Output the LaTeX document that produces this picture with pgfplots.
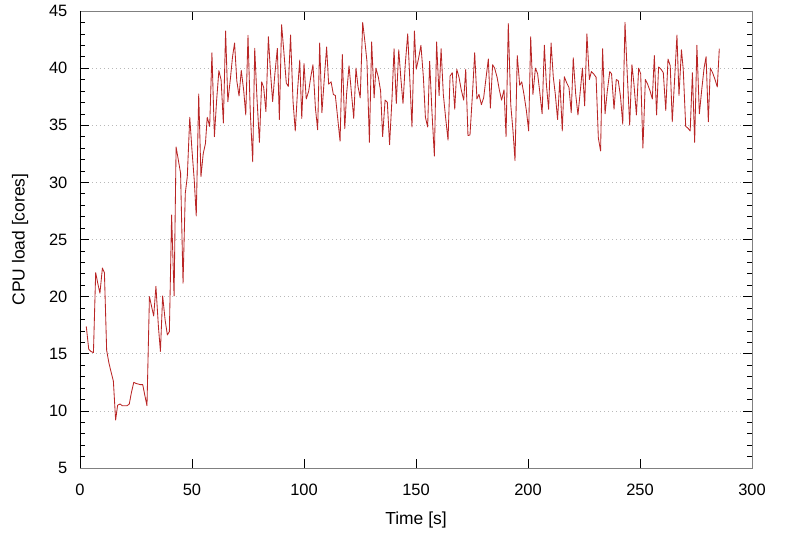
\documentclass[border=0pt]{standalone}
\usepackage{pgfplots}
\pgfplotsset{compat=1.18}
\usepackage{fontspec}
\setmainfont{Liberation Sans}
\definecolor{linered}{RGB}{185,38,38}
\begin{document}
\begin{tikzpicture}
\begin{axis}[
  scale only axis, width=672bp, height=457bp,
  xmin=0, xmax=300, ymin=5, ymax=45,
  xtick={0,50,...,300}, ytick={5,10,...,45},
  minor y tick num=4,
  tick align=inside, major tick length=9bp, minor tick length=5bp,
  axis line style={draw=gray, line width=0.8bp},
  every tick/.style={black, line width=0.6bp},
  ymajorgrids, grid style={gray!55, line width=0.7bp, dash pattern=on 0.8bp off 3.2bp},
  /pgf/number format/assume math mode=true,
  tick label style={font=\fontsize{16.5}{19}\selectfont},
  xticklabel style={anchor=center, yshift=-22bp},
  yticklabel style={anchor=east, inner sep=0pt, xshift=-12.5bp},
  label style={font=\fontsize{17.5}{20}\selectfont},
  xlabel={Time [s]}, ylabel={CPU load [cores]},
  xlabel style={at={(axis description cs:0.5,-0.1138)}, anchor=center},
  ylabel style={at={(axis description cs:-0.0893,0.5)}, anchor=center},
]
\addplot[linered, line width=0.85bp, line join=round] table {
t v
2.8 17.4
3.9 15.4
4.9 15.2
6.0 15.1
7.0 22.1
7.9 21.2
8.9 20.3
10.0 22.5
10.9 22.1
11.9 15.3
12.9 14.2
14.0 13.3
14.9 12.6
15.9 9.2
16.8 10.5
17.9 10.6
18.9 10.45
19.9 10.45
21.0 10.45
22.0 10.6
22.9 11.55
24.0 12.5
25.0 12.4
26.0 12.35
26.9 12.3
28.0 12.3
29.0 11.3
29.9 10.45
31.0 20.0
32.0 19.1
32.9 18.3
33.9 20.9
35.0 17.4
35.9 15.2
36.9 20.06
38.0 17.96
39.0 16.65
39.9 16.94
40.9 27.15
42.0 20.06
42.9 33.1
43.9 31.96
44.9 30.8
46.0 21.17
47.0 29.04
47.9 30.5
49.0 35.7
50.0 32.8
51.0 30.2
51.9 27.06
53.0 37.74
54.0 30.5
55.0 32.5
56.0 33.4
56.8 35.7
57.9 34.9
58.9 41.35
60.0 34.0
61.0 37.2
62.0 39.78
63.0 38.96
64.0 35.2
65.0 43.25
66.0 37.06
67.1 39.0
68.1 41.0
69.0 42.2
70.0 38.9
71.0 37.56
72.0 39.8
73.1 38.0
74.0 35.9
75.0 42.87
76.0 36.25
77.1 31.8
78.0 41.73
79.0 37.4
80.1 33.5
81.1 38.8
82.0 38.3
83.0 36.2
84.1 42.75
85.0 39.75
86.0 37.07
87.0 39.5
88.1 41.73
89.0 35.5
90.0 43.8
91.1 41.2
92.1 38.7
93.0 38.4
94.0 42.9
95.1 37.1
96.1 34.5
97.1 38.0
98.1 40.7
99.0 35.6
100.0 40.4
101.0 37.3
102.1 38.0
103.0 39.2
104.0 40.3
105.1 36.5
106.1 34.6
107.0 42.2
108.0 36.1
109.1 39.2
110.1 41.85
111.0 38.6
112.1 38.8
113.1 37.7
114.0 37.6
115.0 35.7
116.1 33.6
117.1 41.2
118.2 34.7
119.0 37.7
120.1 40.2
121.1 38.0
122.2 35.6
123.2 40.0
124.1 38.4
125.1 37.4
126.2 44.0
127.2 42.3
128.1 40.6
129.2 33.5
130.2 42.3
131.3 37.4
132.1 40.0
133.2 39.2
134.2 38.0
135.1 34.0
136.2 37.2
137.2 37.0
138.2 33.3
139.3 37.4
140.2 41.7
141.2 36.9
142.3 41.6
143.2 39.2
144.2 36.9
145.2 40.3
146.3 43.0
147.2 39.2
148.2 34.85
149.3 43.25
150.1 39.9
151.2 40.9
152.2 42.0
153.3 39.2
154.2 35.7
155.2 34.85
156.1 40.6
157.1 36.25
158.2 32.3
159.2 42.3
160.3 37.6
161.2 41.7
162.2 37.7
163.2 35.7
164.3 33.7
165.2 39.3
166.2 39.6
167.3 36.4
168.2 39.9
169.2 39.2
170.2 38.1
171.3 37.2
172.2 39.9
173.2 34.1
174.1 34.15
175.2 37.7
176.2 41.35
177.2 37.3
178.1 37.7
179.2 36.8
180.2 37.4
181.3 39.2
182.3 40.8
183.2 36.5
184.2 40.3
185.1 40.0
186.2 39.2
187.2 38.1
188.2 37.2
189.3 38.1
190.2 34.0
191.2 43.9
192.3 36.8
193.3 34.5
194.2 31.9
195.2 41.1
196.3 38.5
197.2 38.8
198.2 37.7
199.3 36.25
200.3 34.5
201.2 42.75
202.2 37.7
203.3 40.0
204.3 39.5
205.2 38.0
206.3 36.0
207.3 42.0
208.2 38.6
209.2 36.4
210.3 42.2
211.3 39.2
212.2 37.7
213.2 35.5
214.2 39.0
215.3 34.5
216.2 39.25
217.3 38.7
218.3 38.3
219.3 36.1
220.2 40.9
221.3 37.7
222.3 35.9
223.2 37.7
224.3 40.0
225.3 36.7
226.3 43.0
227.4 39.0
228.3 39.7
229.3 39.5
230.4 39.2
231.4 33.9
232.4 32.75
233.3 41.7
234.4 36.0
235.4 38.0
236.5 39.7
237.3 39.5
238.4 36.4
239.4 39.0
240.3 38.9
241.3 37.5
242.3 35.1
243.3 44.0
244.3 39.5
245.4 35.0
246.4 40.3
247.3 38.6
248.4 35.9
249.4 40.0
250.3 39.5
251.3 33.0
252.4 39.0
253.4 38.6
254.5 38.0
255.5 37.3
256.4 41.1
257.4 35.9
258.3 40.1
259.4 39.9
260.4 39.6
261.5 36.3
262.5 40.8
263.5 40.2
264.4 35.3
265.5 39.2
266.5 42.9
267.4 37.6
268.5 41.6
269.3 39.9
270.4 34.9
271.4 34.75
272.4 34.5
273.4 39.6
274.4 33.5
275.4 42.0
276.5 36.0
277.5 38.0
278.6 40.0
279.5 41.0
280.5 35.3
281.4 40.0
282.4 39.6
283.5 39.0
284.5 38.35
285.4 41.7
};
\draw[black, line width=0.8bp] (rel axis cs:0,0) -- (rel axis cs:0,1);
\end{axis}
\pgfresetboundingbox
\path[use as bounding box] (-80bp,-66bp) rectangle (713bp,468bp);
\end{tikzpicture}
\end{document}
